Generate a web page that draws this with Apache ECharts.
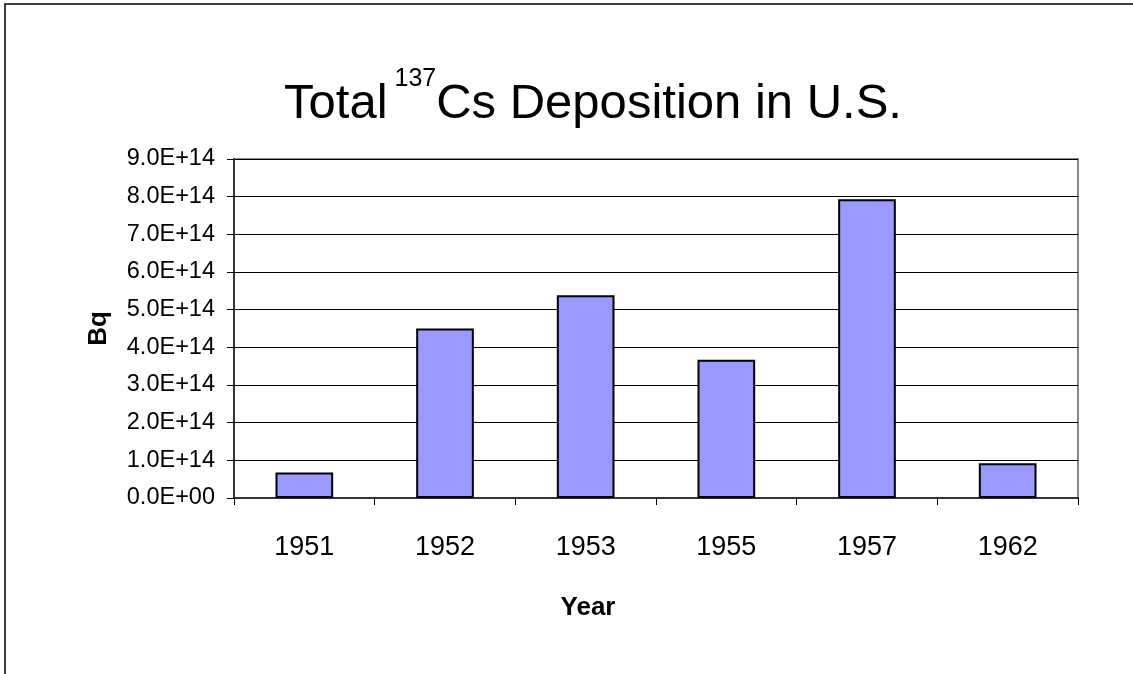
<!DOCTYPE html>
<head>
    <meta charset="utf-8">
    <title>ECharts</title>
</head>
<body style="margin:0;background:#fff">
    <script src="https://cdn.jsdelivr.net/npm/echarts@6/dist/echarts.min.js"></script>
    <div id="main" style="width:1133px;height:674px"></div>
    <script type="text/javascript">
    // 数据
    var years = ['1951', '1952', '1953', '1955', '1957', '1962'];
    var deposition = [6.8e13, 4.5e14, 5.38e14, 3.67e14, 7.93e14, 9.2e13];
    var yMin = 0, yMax = 9e14, yStep = 1e14;

    function sciLabel(v) {
        // 9.0E+14 / 0.0E+00 的格式
        var s = Number(v).toExponential(1).toUpperCase();
        return s.replace(/E([+-])(\d)$/, 'E$10$2');
    }

    var myChart = echarts.init(document.getElementById('main'));
    myChart.setOption({
        animation: false,
        textStyle: { fontFamily: 'Liberation Sans, Arial, sans-serif', color: '#000' },
        title: {
            text: '{a|Total}{s| 137}{a|Cs Deposition in U.S.}',
            left: 588,
            textAlign: 'center',
            top: 59,
            textStyle: {
                fontWeight: 'normal',
                rich: {
                    a: { fontSize: 49, lineHeight: 80, color: '#000', fontWeight: 'normal', fontFamily: 'Liberation Sans' },
                    s: { fontSize: 25, lineHeight: 26, color: '#000', fontWeight: 'normal', fontFamily: 'Liberation Sans', verticalAlign: 'top', padding: [3, 0, 0, 0] }
                }
            }
        },
        graphic: [{
            type: 'rect',
            shape: { x: 5, y: 4, width: 1200, height: 800 },
            style: { fill: 'none', stroke: '#000', lineWidth: 1.5 },
            silent: true
        }],
        grid: {
            left: 234, right: 55, top: 159, bottom: 176,
            show: true, borderColor: '#888', borderWidth: 2, backgroundColor: '#fff'
        },
        xAxis: {
            type: 'category',
            data: years,
            name: 'Year',
            nameLocation: 'middle',
            nameGap: 97,
            nameTextStyle: { fontSize: 26, fontWeight: 'bold', padding: [0, 136, 0, 0] },
            axisLine: { lineStyle: { color: '#333', width: 2 } },
            axisTick: { show: true, length: 7, lineStyle: { color: '#000', width: 1 } },
            axisLabel: { fontSize: 27, margin: 36, color: '#000' }
        },
        yAxis: {
            type: 'value',
            min: yMin, max: yMax, interval: yStep,
            name: 'Bq',
            nameLocation: 'middle',
            nameGap: 122,
            nameRotate: 90,
            nameTextStyle: { fontSize: 26, fontWeight: 'bold' },
            axisLine: { show: true, lineStyle: { color: '#333', width: 2 } },
            axisTick: { show: true, length: 7, lineStyle: { color: '#000', width: 1 } },
            axisLabel: { fontSize: 23.5, margin: 19, color: '#000', formatter: sciLabel },
            splitLine: { lineStyle: { color: '#000', width: 1 } }
        },
        series: [{
            name: 'Bq',
            type: 'bar',
            data: deposition,
            barWidth: '41%',
            itemStyle: { color: '#9999FF', borderColor: '#000', borderWidth: 2 }
        }]
    });
    </script>
</body>
